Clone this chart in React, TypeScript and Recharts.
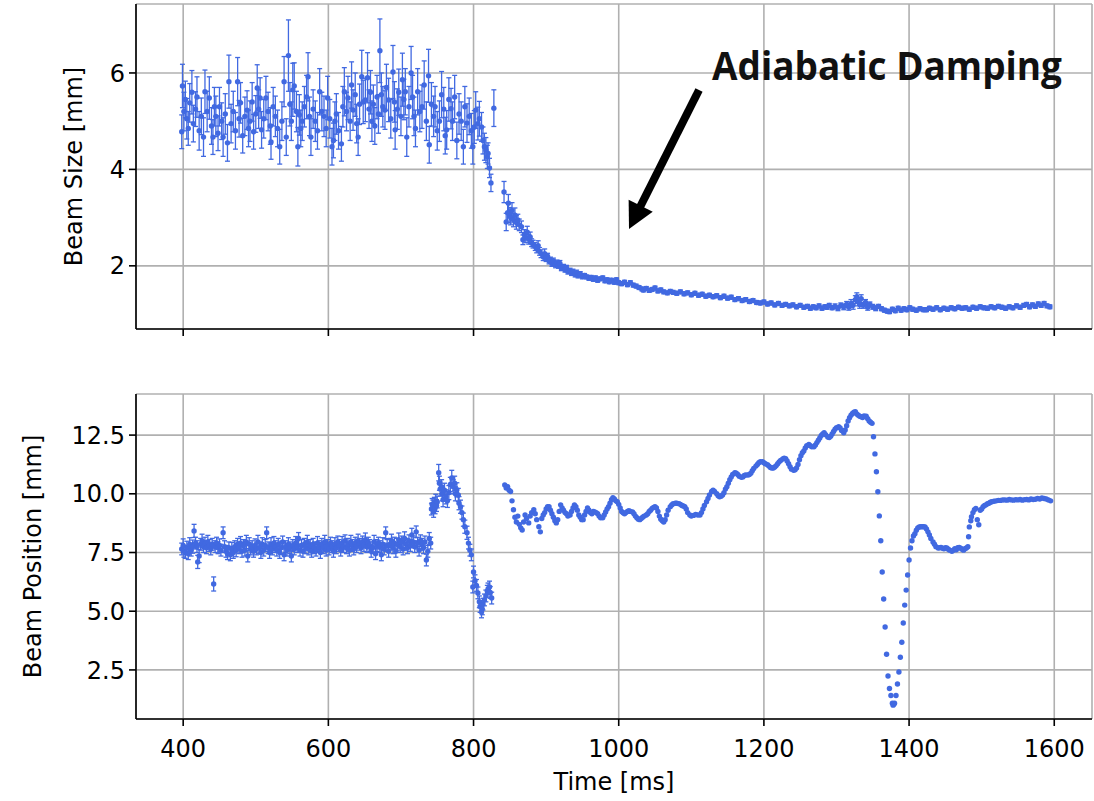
import * as React from 'react';
import { ScatterChart, Scatter, XAxis, YAxis, CartesianGrid, ErrorBar } from 'recharts';

const BLUE = '#4169e1';
const FONT = "'DejaVu Sans', sans-serif";

const timeTicks = [400, 600, 800, 1000, 1200, 1400, 1600];
const sizeTicks = [2, 4, 6];
const posTicks = [2.5, 5, 7.5, 10, 12.5];

// beam size before the ramp: [time ms, size mm, error mm]
const sizeNoisy = [
  [398, 4.78, 0.35], [399, 5.73, 0.45], [401, 5.2, 0.4], [403, 5.45, 0.38], [405, 5.05, 0.42], [407, 4.85, 0.35],
  [409, 5.38, 0.4], [412, 5.6, 0.45], [414, 4.95, 0.38], [417, 5.25, 0.36], [419, 5.5, 0.42], [422, 4.8, 0.4],
  [425, 5.1, 0.38], [428, 4.67, 0.4], [430, 5.61, 0.45], [433, 5.2, 0.42], [436, 5.48, 0.44], [439, 4.9, 0.38],
  [441, 4.67, 0.36], [443, 5.3, 0.4], [445, 5.1, 0.42], [448, 4.75, 0.36], [450, 5.3, 0.4], [453, 5.0, 0.38],
  [455, 4.67, 0.4], [458, 5.15, 0.42], [461, 4.55, 0.38], [463, 5.82, 0.55], [466, 4.95, 0.4], [469, 5.2, 0.42],
  [472, 4.8, 0.38], [475, 5.82, 0.5], [477, 5.05, 0.38], [479, 5.38, 0.42], [482, 4.7, 0.36], [485, 5.1, 0.4],
  [488, 5.23, 0.4], [490, 4.85, 0.38], [492, 5.0, 0.42], [495, 5.4, 0.4], [497, 4.78, 0.36], [500, 5.15, 0.38],
  [502, 5.69, 0.48], [504, 5.25, 0.4], [506, 5.48, 0.42], [508, 4.82, 0.38], [511, 5.05, 0.4], [514, 5.48, 0.45],
  [517, 5.2, 0.4], [520, 4.9, 0.38], [521, 4.57, 0.36], [524, 5.3, 0.4], [527, 5.1, 0.42], [530, 4.85, 0.38],
  [533, 4.47, 0.36], [536, 5.0, 0.4], [539, 5.82, 0.52], [542, 4.67, 0.38], [545, 6.36, 0.74], [547, 5.35, 0.45],
  [549, 5.0, 0.4], [551, 5.65, 0.55], [553, 5.73, 0.48], [556, 5.2, 0.42], [558, 4.47, 0.4], [560, 5.13, 0.42],
  [562, 4.85, 0.38], [564, 5.0, 0.4], [567, 5.3, 0.42], [570, 5.5, 0.45], [572, 5.92, 0.5], [574, 5.1, 0.4],
  [576, 4.67, 0.38], [579, 5.25, 0.4], [582, 5.0, 0.42], [585, 4.8, 0.38], [588, 5.61, 0.48], [591, 5.2, 0.4],
  [594, 5.1, 0.42], [597, 4.85, 0.38], [599, 5.48, 0.45], [602, 5.05, 0.4], [605, 4.47, 0.38], [607, 4.6, 0.36],
  [609, 5.0, 0.4], [611, 5.15, 0.42], [614, 4.8, 0.38], [618, 4.53, 0.36], [620, 5.3, 0.42], [622, 5.61, 0.5],
  [625, 5.2, 0.4], [627, 5.48, 0.45], [630, 5.0, 0.4], [632, 5.75, 0.48], [634, 5.23, 0.42], [637, 5.55, 0.45],
  [639, 4.95, 0.4], [641, 4.67, 0.38], [643, 5.35, 0.42], [646, 5.92, 0.55], [648, 5.4, 0.45], [651, 5.44, 0.45],
  [654, 5.9, 0.52], [656, 5.25, 0.4], [658, 5.6, 0.45], [660, 5.0, 0.42], [662, 5.35, 0.4], [664, 4.9, 0.38],
  [667, 5.5, 0.45], [669, 5.15, 0.4], [671, 6.46, 0.66], [673, 5.55, 0.45], [675, 5.3, 0.42], [678, 5.23, 0.4],
  [680, 5.7, 0.48], [683, 5.44, 0.45], [686, 5.05, 0.4], [689, 6.02, 0.55], [691, 5.4, 0.42], [692, 4.82, 0.4],
  [695, 5.25, 0.42], [697, 5.6, 0.48], [700, 5.1, 0.4], [702, 5.86, 0.55], [704, 5.45, 0.42], [706, 5.61, 0.48],
  [708, 4.67, 0.4], [711, 5.3, 0.42], [714, 6.0, 0.55], [716, 5.5, 0.45], [718, 5.1, 0.4], [720, 4.85, 0.38],
  [723, 5.61, 0.48], [726, 5.2, 0.42], [729, 5.3, 0.45], [732, 5.75, 0.5], [735, 5.0, 0.4], [738, 5.94, 0.55],
  [739, 4.51, 0.38], [742, 5.35, 0.45], [745, 5.1, 0.42], [747, 5.3, 0.42], [750, 4.8, 0.4], [753, 5.0, 0.42],
  [756, 5.55, 0.48], [759, 5.25, 0.45], [761, 4.7, 0.38], [763, 4.82, 0.4], [766, 5.45, 0.45], [769, 5.26, 0.42],
  [771, 5.0, 0.4], [774, 5.5, 0.45], [777, 4.6, 0.38], [780, 5.15, 0.42], [783, 5.0, 0.4], [786, 4.47, 0.36],
  [788, 5.3, 0.42], [791, 4.96, 0.4], [794, 5.1, 0.38], [797, 4.8, 0.36], [799, 4.47, 0.36], [801, 4.88, 0.34],
  [803, 5.23, 0.38], [806, 4.95, 0.34], [808, 5.05, 0.36], [811, 4.88, 0.3], [813, 4.6, 0.28], [815, 4.47, 0.28],
  [817, 4.4, 0.26], [819, 4.26, 0.24], [820, 4.33, 0.22], [822, 4.03, 0.2], [824, 3.72, 0.18], [828, 5.27, 0.38],
];

// beam size during adiabatic damping: [time ms, size mm, error mm]
const sizeDecay = [
  [842, 3.53, 0.22], [845, 2.91, 0.18], [847, 3.1, 0.2], [848, 3.3, 0.18], [850, 3.05, 0.16], [851, 3.0, 0.15],
  [853, 3.15, 0.16], [855, 2.95, 0.14], [857, 3.05, 0.15], [859, 2.9, 0.14], [861, 2.95, 0.12], [863, 2.85, 0.12],
  [866, 2.81, 0.12], [868, 2.54, 0.1], [870, 2.65, 0.1], [872, 2.58, 0.1], [874, 2.7, 0.12], [876, 2.55, 0.1],
  [878, 2.6, 0.1], [880, 2.48, 0.08], [882, 2.45, 0.08], [885, 2.4, 0.08], [887, 2.35, 0.08], [889, 2.42, 0.1],
  [891, 2.3, 0.08], [893, 2.25, 0.08], [896, 2.19, 0.08], [898, 2.25, 0.1], [900, 2.15, 0.06], [902, 2.2, 0.06],
  [904, 2.1, 0.06], [906, 2.12, 0.06], [908, 2.05, 0.06], [910, 2.1, 0.06], [913, 2.02, 0.06], [915, 2.06, 0.06],
  [917, 2.0, 0.05], [919, 2.05, 0.06], [921, 1.95, 0.05], [924, 1.98, 0.05], [926, 1.92, 0.05], [928, 1.96, 0.05],
  [930, 1.88, 0.05], [933, 1.9, 0.05], [935, 1.85, 0.05], [937, 1.88, 0.05], [940, 1.82, 0.05], [942, 1.86, 0.05],
  [944, 1.8, 0.05], [947, 1.83, 0.05], [950, 1.78, 0.05], [953, 1.8, 0.04], [956, 1.77, 0.04], [959, 1.74, 0.04],
  [962, 1.76, 0.04], [965, 1.72, 0.04], [968, 1.75, 0.04], [971, 1.7, 0.04], [974, 1.73, 0.04], [978, 1.75, 0.04],
  [981, 1.69, 0.04], [984, 1.71, 0.04], [987, 1.67, 0.04], [990, 1.7, 0.04], [994, 1.66, 0.04], [997, 1.71, 0.04],
  [1000, 1.65, 0.04], [1004, 1.63, 0.04], [1008, 1.66, 0.04], [1012, 1.61, 0.04], [1016, 1.65, 0.04], [1020, 1.6, 0.04],
  [1024, 1.58, 0.04], [1028, 1.55, 0.04], [1032, 1.52, 0.04], [1034, 1.5, 0.04], [1038, 1.53, 0.04], [1042, 1.49, 0.04],
  [1046, 1.51, 0.04], [1050, 1.54, 0.04], [1054, 1.48, 0.04], [1058, 1.5, 0.04], [1062, 1.46, 0.04], [1067, 1.44, 0.04],
  [1071, 1.47, 0.04], [1075, 1.45, 0.04], [1080, 1.43, 0.04], [1085, 1.46, 0.04], [1090, 1.42, 0.04], [1095, 1.44, 0.04],
  [1100, 1.4, 0.04], [1105, 1.43, 0.04], [1110, 1.39, 0.04], [1115, 1.41, 0.04], [1120, 1.37, 0.04], [1125, 1.39, 0.04],
  [1130, 1.36, 0.04], [1135, 1.38, 0.04], [1140, 1.34, 0.04], [1145, 1.37, 0.04], [1150, 1.33, 0.04], [1155, 1.35, 0.04],
  [1160, 1.3, 0.04], [1165, 1.32, 0.04], [1170, 1.28, 0.04], [1175, 1.3, 0.04], [1180, 1.26, 0.04], [1185, 1.28, 0.04],
  [1190, 1.24, 0.04], [1195, 1.23, 0.04], [1200, 1.25, 0.04], [1205, 1.21, 0.04], [1210, 1.23, 0.04], [1215, 1.19, 0.04],
  [1220, 1.22, 0.04], [1225, 1.18, 0.04], [1230, 1.2, 0.04], [1235, 1.17, 0.04], [1240, 1.19, 0.04], [1245, 1.15, 0.04],
  [1250, 1.18, 0.04], [1255, 1.14, 0.04], [1260, 1.16, 0.04], [1264, 1.12, 0.04], [1268, 1.15, 0.04], [1272, 1.13, 0.04],
  [1276, 1.17, 0.04], [1280, 1.12, 0.04], [1284, 1.15, 0.04], [1287, 1.14, 0.04], [1290, 1.18, 0.04], [1294, 1.13, 0.04],
  [1298, 1.16, 0.05], [1302, 1.12, 0.05], [1306, 1.18, 0.05], [1310, 1.15, 0.06], [1314, 1.2, 0.06], [1317, 1.14, 0.06],
  [1320, 1.22, 0.08], [1323, 1.18, 0.08], [1326, 1.3, 0.08], [1328, 1.36, 0.08], [1330, 1.25, 0.08], [1332, 1.2, 0.08],
  [1334, 1.32, 0.08], [1337, 1.18, 0.06], [1340, 1.24, 0.06], [1343, 1.14, 0.06], [1346, 1.2, 0.05], [1350, 1.15, 0.05],
  [1354, 1.12, 0.05], [1358, 1.16, 0.04], [1362, 1.11, 0.04], [1366, 1.08, 0.04], [1370, 1.06, 0.04], [1373, 1.05, 0.04],
  [1377, 1.1, 0.04], [1381, 1.07, 0.04], [1385, 1.12, 0.04], [1389, 1.08, 0.04], [1393, 1.11, 0.04], [1397, 1.09, 0.04],
  [1401, 1.13, 0.04], [1405, 1.1, 0.04], [1410, 1.08, 0.04], [1415, 1.11, 0.04], [1420, 1.09, 0.04], [1424, 1.09, 0.04],
  [1428, 1.12, 0.04], [1433, 1.1, 0.04], [1438, 1.13, 0.04], [1443, 1.09, 0.04], [1448, 1.12, 0.04], [1453, 1.1, 0.04],
  [1458, 1.13, 0.04], [1463, 1.11, 0.04], [1468, 1.14, 0.04], [1473, 1.12, 0.04], [1478, 1.13, 0.04], [1483, 1.1, 0.04],
  [1488, 1.14, 0.04], [1493, 1.12, 0.04], [1498, 1.15, 0.04], [1503, 1.13, 0.04], [1508, 1.12, 0.04], [1513, 1.15, 0.04],
  [1518, 1.13, 0.04], [1523, 1.16, 0.04], [1528, 1.14, 0.04], [1533, 1.12, 0.04], [1538, 1.15, 0.04], [1543, 1.13, 0.04],
  [1548, 1.17, 0.04], [1553, 1.14, 0.04], [1558, 1.18, 0.04], [1562, 1.2, 0.04], [1566, 1.15, 0.04], [1570, 1.19, 0.04],
  [1574, 1.16, 0.04], [1578, 1.21, 0.04], [1582, 1.18, 0.04], [1586, 1.22, 0.04], [1590, 1.17, 0.04], [1594, 1.15, 0.04],
];

// beam position before 740 ms: [time ms, position mm, error mm]
const posNoisy = [
  [398, 7.65, 0.25], [400, 7.8, 0.28], [401, 7.55, 0.25], [403, 7.5, 0.25], [405, 7.7, 0.28], [407, 7.45, 0.25],
  [409, 7.85, 0.28], [411, 7.6, 0.25], [413, 7.75, 0.28], [415, 8.42, 0.28], [417, 7.9, 0.25], [419, 7.75, 0.25],
  [420, 7.1, 0.28], [422, 7.35, 0.28], [424, 7.85, 0.25], [426, 8.0, 0.28], [428, 7.75, 0.25], [430, 7.9, 0.25],
  [432, 7.7, 0.25], [434, 7.95, 0.28], [436, 7.8, 0.25], [438, 7.65, 0.25], [440, 7.85, 0.25], [442, 6.16, 0.3],
  [444, 7.75, 0.25], [446, 7.9, 0.25], [448, 7.7, 0.25], [450, 7.8, 0.28], [452, 7.6, 0.25], [455, 8.34, 0.25],
  [457, 7.75, 0.25], [459, 7.55, 0.25], [461, 7.45, 0.25], [463, 7.7, 0.25], [465, 7.4, 0.25], [467, 7.65, 0.28],
  [469, 7.5, 0.25], [471, 7.75, 0.25], [473, 7.6, 0.28], [475, 7.85, 0.25], [477, 7.7, 0.25], [479, 7.9, 0.28],
  [481, 7.55, 0.25], [483, 7.8, 0.25], [485, 7.6, 0.25], [487, 7.95, 0.28], [489, 7.35, 0.25], [491, 7.85, 0.28],
  [493, 7.65, 0.25], [495, 7.75, 0.25], [497, 7.55, 0.25], [499, 7.8, 0.28], [501, 7.65, 0.25], [503, 7.95, 0.28],
  [505, 7.7, 0.25], [507, 7.5, 0.25], [509, 7.85, 0.28], [511, 7.6, 0.25], [513, 7.8, 0.25], [515, 8.34, 0.25],
  [517, 7.7, 0.25], [519, 7.5, 0.25], [521, 7.85, 0.28], [523, 7.65, 0.25], [525, 7.9, 0.28], [527, 7.75, 0.25],
  [529, 7.6, 0.25], [531, 7.85, 0.25], [533, 7.5, 0.25], [535, 7.7, 0.28], [537, 7.95, 0.25], [539, 7.4, 0.25],
  [541, 7.75, 0.25], [543, 7.6, 0.25], [545, 7.85, 0.28], [547, 7.7, 0.25], [549, 7.35, 0.25], [551, 7.8, 0.25],
  [553, 7.65, 0.25], [555, 7.9, 0.28], [557, 7.75, 0.25], [559, 8.1, 0.25], [561, 7.6, 0.25], [563, 7.8, 0.25],
  [565, 7.55, 0.25], [567, 7.85, 0.25], [569, 7.7, 0.25], [571, 7.95, 0.28], [573, 7.65, 0.25], [575, 7.8, 0.25],
  [577, 7.55, 0.25], [579, 7.85, 0.25], [581, 7.7, 0.25], [583, 7.6, 0.25], [585, 7.9, 0.28], [587, 7.75, 0.25],
  [589, 7.5, 0.25], [591, 7.85, 0.25], [593, 7.7, 0.25], [595, 7.95, 0.28], [597, 7.6, 0.25], [599, 7.8, 0.25],
  [601, 7.65, 0.25], [603, 7.9, 0.25], [605, 7.75, 0.25], [607, 7.55, 0.25], [609, 7.85, 0.28], [611, 7.7, 0.25],
  [613, 7.95, 0.25], [615, 7.8, 0.25], [617, 7.6, 0.25], [619, 7.9, 0.28], [621, 7.75, 0.25], [623, 8.0, 0.25],
  [625, 7.7, 0.25], [627, 7.85, 0.25], [629, 7.6, 0.25], [631, 7.95, 0.28], [633, 7.8, 0.25], [635, 7.65, 0.25],
  [637, 7.9, 0.25], [639, 7.75, 0.25], [641, 8.0, 0.28], [643, 7.85, 0.25], [645, 7.7, 0.25], [647, 7.95, 0.25],
  [649, 7.8, 0.25], [651, 8.05, 0.28], [653, 7.75, 0.25], [655, 7.9, 0.25], [657, 7.8, 0.25], [659, 7.55, 0.25],
  [661, 7.7, 0.25], [663, 7.95, 0.28], [665, 7.45, 0.25], [667, 7.8, 0.25], [669, 7.9, 0.25], [671, 7.75, 0.25],
  [673, 7.4, 0.25], [675, 7.85, 0.28], [677, 7.65, 0.25], [679, 8.34, 0.25], [681, 7.8, 0.25], [683, 7.55, 0.25],
  [685, 7.85, 0.25], [687, 8.0, 0.28], [689, 7.7, 0.25], [691, 7.9, 0.25], [693, 7.55, 0.25], [695, 7.85, 0.25],
  [697, 8.05, 0.28], [699, 7.75, 0.25], [701, 7.95, 0.25], [703, 7.65, 0.25], [705, 8.1, 0.28], [707, 7.85, 0.25],
  [709, 7.7, 0.25], [711, 8.0, 0.25], [713, 7.8, 0.25], [715, 8.25, 0.28], [717, 7.95, 0.25], [719, 7.75, 0.25],
  [721, 8.38, 0.25], [723, 7.9, 0.25], [725, 7.6, 0.25], [727, 8.0, 0.25], [729, 7.85, 0.25], [731, 7.7, 0.25],
  [733, 7.95, 0.25], [735, 7.18, 0.25], [737, 7.55, 0.25], [739, 8.1, 0.25], [741, 7.9, 0.25],
];

// beam position jump around 750-825 ms: [time ms, position mm, error mm]
const posJump = [
  [742, 9.35, 0.25], [743, 9.55, 0.25], [744, 9.45, 0.28], [745, 9.25, 0.25], [746, 9.6, 0.25], [747, 9.4, 0.25],
  [748, 9.7, 0.28], [749, 9.5, 0.25], [750, 9.65, 0.25], [752, 10.9, 0.35], [753, 10.45, 0.3], [754, 10.2, 0.3],
  [756, 10.3, 0.3], [757, 10.0, 0.3], [758, 9.75, 0.3], [760, 10.15, 0.3], [762, 9.87, 0.3], [764, 9.7, 0.28],
  [766, 10.05, 0.3], [768, 10.4, 0.3], [770, 10.68, 0.32], [772, 10.3, 0.3], [774, 10.45, 0.3], [775, 10.0, 0.3],
  [777, 10.17, 0.3], [779, 9.95, 0.28], [780, 9.6, 0.28], [782, 9.45, 0.28], [784, 9.2, 0.28], [786, 8.9, 0.28],
  [788, 8.6, 0.28], [791, 8.34, 0.28], [793, 7.9, 0.25], [795, 7.6, 0.25], [797, 7.4, 0.25], [799, 6.03, 0.25],
  [800, 6.67, 0.25], [802, 6.3, 0.25], [804, 6.1, 0.25], [806, 5.78, 0.25], [808, 5.4, 0.25], [809, 5.2, 0.25],
  [811, 4.97, 0.25], [812, 5.1, 0.25], [813, 5.3, 0.25], [815, 5.48, 0.25], [817, 5.65, 0.25], [819, 5.85, 0.25],
  [820, 5.95, 0.25], [822, 6.03, 0.25], [823, 5.8, 0.25], [825, 5.56, 0.25],
];

// beam position after 840 ms: [time ms, position mm]
const posLate = [
  [843, 10.38], [845, 10.25], [847, 10.3], [849, 10.15], [851, 10.1], [853, 9.7], [855, 9.32], [857, 9.0],
  [859, 8.8], [861, 9.05], [863, 8.7], [865, 8.55], [867, 8.46], [869, 8.8], [871, 9.1], [873, 8.95],
  [876, 8.76], [878, 9.05], [880, 9.2], [883, 9.32], [885, 9.15], [887, 8.9], [890, 8.6], [892, 8.38],
  [894, 8.95], [896, 9.1], [898, 9.2], [900, 9.35], [902, 9.45], [904, 9.45], [906, 9.3], [908, 9.15],
  [910, 9.0], [912, 8.85], [914, 8.76], [916, 8.9], [918, 9.25], [920, 9.53], [922, 9.4], [924, 9.3],
  [926, 9.2], [928, 9.15], [930, 9.05], [933, 9.1], [935, 9.25], [937, 9.4], [939, 9.53], [941, 9.45],
  [943, 9.3], [945, 9.1], [947, 9.0], [949, 8.9], [951, 8.9], [953, 9.1], [955, 9.25], [957, 9.4],
  [959, 9.3], [961, 9.2], [963, 9.15], [965, 9.25], [967, 9.23], [969, 9.2], [971, 9.15], [973, 9.05],
  [975, 8.98], [978, 8.98], [980, 9.1], [982, 9.23], [984, 9.35], [986, 9.45], [988, 9.6], [990, 9.75],
  [992, 9.83], [994, 9.78], [996, 9.7], [998, 9.66], [1000, 9.55], [1002, 9.4], [1004, 9.25], [1006, 9.19],
  [1008, 9.15], [1010, 9.2], [1012, 9.25], [1014, 9.28], [1016, 9.25], [1019, 9.23], [1021, 9.15], [1023, 9.05],
  [1025, 8.98], [1027, 8.92], [1029, 8.9], [1031, 8.95], [1033, 9.0], [1035, 9.05], [1038, 9.1], [1040, 9.15],
  [1042, 9.25], [1044, 9.3], [1046, 9.38], [1048, 9.42], [1050, 9.45], [1052, 9.4], [1054, 9.25], [1056, 9.05],
  [1058, 8.92], [1060, 8.85], [1062, 8.8], [1064, 8.9], [1066, 9.1], [1068, 9.3], [1071, 9.45], [1073, 9.52],
  [1075, 9.58], [1078, 9.6], [1080, 9.6], [1083, 9.58], [1085, 9.55], [1087, 9.5], [1089, 9.48], [1091, 9.45],
  [1093, 9.35], [1095, 9.2], [1098, 9.1], [1100, 9.05], [1103, 9.08], [1106, 9.12], [1109, 9.1], [1112, 9.1],
  [1114, 9.2], [1116, 9.35], [1118, 9.5], [1121, 9.66], [1123, 9.8], [1125, 9.95], [1128, 10.1], [1130, 10.15],
  [1132, 10.1], [1135, 10.0], [1137, 9.92], [1139, 9.87], [1141, 9.9], [1143, 9.95], [1145, 10.05], [1147, 10.2],
  [1149, 10.3], [1151, 10.45], [1153, 10.6], [1155, 10.72], [1157, 10.82], [1160, 10.9], [1162, 10.88], [1164, 10.82],
  [1166, 10.75], [1169, 10.7], [1171, 10.72], [1173, 10.78], [1175, 10.8], [1178, 10.8], [1180, 10.82], [1182, 10.88],
  [1184, 10.98], [1186, 11.08], [1189, 11.18], [1191, 11.25], [1193, 11.32], [1195, 11.37], [1198, 11.37], [1200, 11.32],
  [1202, 11.28], [1205, 11.24], [1207, 11.18], [1209, 11.12], [1211, 11.1], [1213, 11.1], [1215, 11.14], [1217, 11.2],
  [1219, 11.28], [1221, 11.36], [1223, 11.42], [1226, 11.48], [1228, 11.52], [1230, 11.5], [1232, 11.4], [1234, 11.28],
  [1236, 11.15], [1238, 11.05], [1241, 11.0], [1243, 11.02], [1245, 11.1], [1247, 11.25], [1249, 11.45], [1251, 11.62],
  [1253, 11.75], [1255, 11.82], [1257, 11.95], [1259, 12.05], [1262, 12.1], [1264, 12.05], [1266, 12.0], [1269, 12.0],
  [1271, 12.08], [1273, 12.18], [1275, 12.28], [1277, 12.38], [1279, 12.48], [1281, 12.55], [1283, 12.6], [1285, 12.52],
  [1288, 12.42], [1290, 12.4], [1292, 12.45], [1294, 12.55], [1296, 12.65], [1298, 12.75], [1300, 12.82], [1303, 12.86],
  [1305, 12.8], [1307, 12.7], [1310, 12.6], [1312, 12.72], [1314, 12.9], [1316, 13.1], [1318, 13.24], [1320, 13.35],
  [1322, 13.42], [1324, 13.48], [1326, 13.5], [1328, 13.4], [1330, 13.35], [1332, 13.3], [1334, 13.28], [1336, 13.25],
  [1338, 13.32], [1341, 13.3], [1343, 13.2], [1345, 13.1], [1347, 13.05], [1349, 13.0], [1351, 12.43], [1353, 11.7],
  [1355, 10.94], [1357, 10.09], [1359, 9.06], [1361, 8.0], [1363, 6.67], [1365, 5.52], [1367, 4.33], [1369, 3.17],
  [1371, 2.24], [1373, 1.71], [1375, 1.41], [1377, 1.08], [1378, 1.0], [1379, 1.04], [1380, 1.08], [1382, 1.41],
  [1384, 1.9], [1386, 2.41], [1388, 3.04], [1390, 3.68], [1392, 4.5], [1394, 5.26], [1396, 5.9], [1398, 6.54],
  [1400, 7.18], [1402, 7.69], [1404, 8.0], [1406, 8.2], [1408, 8.3], [1410, 8.45], [1412, 8.55], [1414, 8.59],
  [1416, 8.6], [1418, 8.6], [1420, 8.6], [1422, 8.59], [1424, 8.5], [1426, 8.38], [1428, 8.25], [1430, 8.1],
  [1433, 7.95], [1435, 7.85], [1437, 7.75], [1440, 7.69], [1442, 7.7], [1444, 7.72], [1446, 7.68], [1448, 7.66],
  [1450, 7.7], [1452, 7.69], [1454, 7.64], [1456, 7.6], [1459, 7.55], [1461, 7.6], [1463, 7.66], [1465, 7.62],
  [1467, 7.7], [1469, 7.72], [1471, 7.68], [1473, 7.64], [1475, 7.6], [1477, 7.66], [1479, 7.69], [1481, 7.75],
  [1482, 8.17], [1483, 8.59], [1485, 8.85], [1486, 9.02], [1488, 9.2], [1490, 9.32], [1492, 9.38], [1494, 8.9],
  [1496, 8.68], [1498, 9.3], [1500, 9.35], [1502, 9.45], [1504, 9.5], [1506, 9.53], [1508, 9.58], [1510, 9.6],
  [1512, 9.64], [1514, 9.66], [1517, 9.68], [1520, 9.7], [1523, 9.72], [1526, 9.72], [1529, 9.74], [1532, 9.74],
  [1535, 9.73], [1538, 9.76], [1541, 9.74], [1544, 9.73], [1547, 9.75], [1550, 9.74], [1553, 9.76], [1556, 9.73],
  [1559, 9.75], [1562, 9.76], [1565, 9.74], [1568, 9.78], [1571, 9.76], [1574, 9.77], [1577, 9.8], [1580, 9.78],
  [1583, 9.82], [1586, 9.8], [1589, 9.78], [1592, 9.74], [1595, 9.7],
];

const toRows = (arr: number[][]) => arr.map(([t, v, e]) => ({ t, v, e: e ?? 0 }));

const Dot = (p: any) => <circle cx={p.cx} cy={p.cy} r={2.7} fill={BLUE} />;

const XTick = (p: any) => (
  <text x={p.x} y={p.y + 31} textAnchor="middle" fontFamily={FONT} fontSize={24} fill="#000">
    {p.payload.value}
  </text>
);

const makeYTick = (digits: number) => (p: any) => (
  <text x={p.x - 4} y={p.y} dy="0.36em" textAnchor="end" fontFamily={FONT} fontSize={24} fill="#000">
    {p.payload.value.toFixed(digits)}
  </text>
);

const frame = { stroke: '#000', strokeWidth: 1.6 };
const grid = { stroke: '#b0b0b0', strokeWidth: 1.6 };

function Panel(props: { data: any[]; lateData?: any[]; domain: number[]; ticks: number[]; digits: number;
  height: number; top: number; xHeight: number; showTimeLabels: boolean }) {
  return (
    <ScatterChart width={1094} height={props.height} margin={{ top: props.top, right: 2, bottom: 0, left: 0 }}>
      <CartesianGrid {...grid} fill="none" />
      <XAxis type="number" dataKey="t" domain={[335, 1652]} ticks={timeTicks} allowDataOverflow
        height={props.xHeight} tickSize={7} tickMargin={0} axisLine={frame} tickLine={frame}
        tick={props.showTimeLabels ? <XTick /> : () => <g />} />
      <XAxis xAxisId="top" orientation="top" type="number" domain={[0, 1]} height={0}
        tick={false} tickLine={false} axisLine={frame} />
      <YAxis type="number" dataKey="v" domain={props.domain} ticks={props.ticks} allowDataOverflow
        width={136} tickSize={7} tickMargin={0} axisLine={frame} tickLine={frame} tick={makeYTick(props.digits)} />
      <YAxis yAxisId="right" orientation="right" type="number" domain={[0, 1]} width={0}
        tick={false} tickLine={false} axisLine={frame} />
      <Scatter data={props.data} fill={BLUE} shape={Dot} isAnimationActive={false}>
        <ErrorBar dataKey="e" direction="y" width={2.5} stroke={BLUE} strokeWidth={1.3} isAnimationActive={false} />
      </Scatter>
      {props.lateData && (
        <Scatter data={props.lateData} fill={BLUE} shape={Dot} isAnimationActive={false} />
      )}
    </ScatterChart>
  );
}

export default function App() {
  const sizeRows = toRows([...sizeNoisy, ...sizeDecay]);
  const posRows = toRows([...posNoisy, ...posJump]);
  const lateRows = toRows(posLate);

  // arrow geometry for the annotation
  const tail = [699, 90];
  const tip = [629, 229];
  const dx = tip[0] - tail[0];
  const dy = tip[1] - tail[1];
  const len = Math.sqrt(dx * dx + dy * dy);
  const ux = dx / len, uy = dy / len;
  const headLen = 26, headHalf = 13.5;
  const bx = tip[0] - ux * headLen, by = tip[1] - uy * headLen;
  const head = `${tip[0]},${tip[1]} ${bx - uy * headHalf},${by + ux * headHalf} ${bx + uy * headHalf},${by - ux * headHalf}`;

  return (
    <div style={{ position: 'absolute', left: 0, top: 0, width: 1094, height: 801, background: '#fff' }}>
      <div style={{ position: 'absolute', left: 0, top: 0 }}>
        <Panel data={sizeRows} domain={[0.69, 7.43]} ticks={sizeTicks} digits={0}
          height={340} top={4} xHeight={11} showTimeLabels={false} />
      </div>
      <div style={{ position: 'absolute', left: 0, top: 380 }}>
        <Panel data={posRows} lateData={lateRows} domain={[0.41, 14.25]} ticks={posTicks} digits={1}
          height={421} top={14} xHeight={82} showTimeLabels={true} />
      </div>
      <svg width={1094} height={801} style={{ position: 'absolute', left: 0, top: 0, pointerEvents: 'none' }}>
        <text transform="translate(82,166.5) rotate(-90)" textAnchor="middle" fontFamily={FONT} fontSize={24} fill="#000">
          Beam Size [mm]
        </text>
        <text transform="translate(41,556.5) rotate(-90)" textAnchor="middle" fontFamily={FONT} fontSize={24} fill="#000">
          Beam Position [mm]
        </text>
        <text x={614} y={790} textAnchor="middle" fontFamily={FONT} fontSize={24} fill="#000">
          Time [ms]
        </text>
        <line x1={tail[0]} y1={tail[1]} x2={bx + ux * 2} y2={by + uy * 2} stroke="#000" strokeWidth={8} />
        <polygon points={head} fill="#000" />
        <text x={712} y={80} fontFamily="'Open Sans', 'Noto Sans', sans-serif" fontWeight={700} fontSize={40}
          fill="#111" textLength={350} lengthAdjust="spacingAndGlyphs">
          Adiabatic Damping
        </text>
      </svg>
    </div>
  );
}
